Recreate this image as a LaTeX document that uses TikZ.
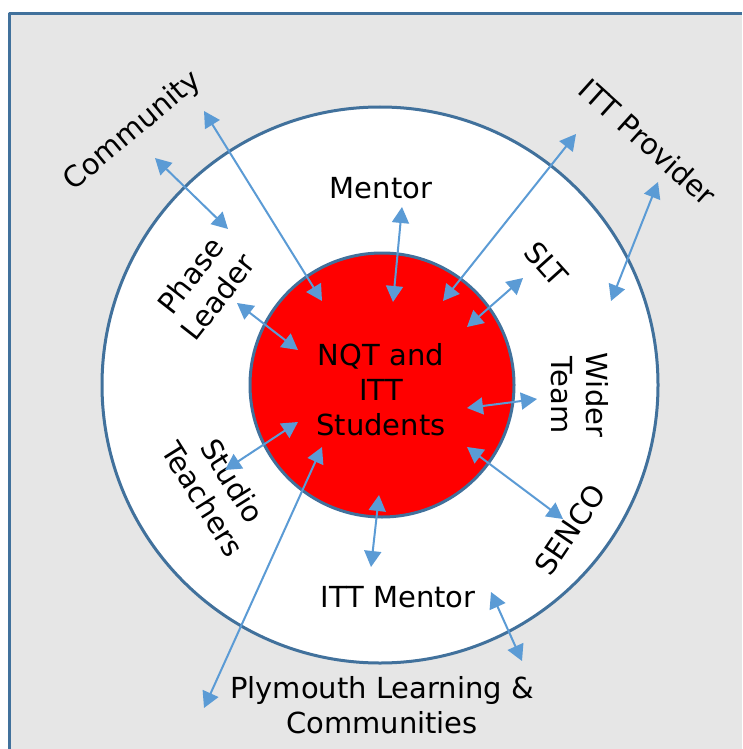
\documentclass[tikz,border=0pt]{standalone}
\usepackage{fontspec}
\setmainfont{DejaVu Sans}
\usetikzlibrary{arrows.meta}
\definecolor{ringblue}{HTML}{41719C}
\definecolor{linkblue}{HTML}{5B9BD5}
\definecolor{panelgrey}{HTML}{E6E6E6}
\begin{document}
\begin{tikzpicture}[x=1pt, y=-1pt, font=\fontsize{29}{35}\selectfont, line join=round,
  >={Triangle[length=16pt,width=17pt]},
  link/.style={linkblue, line width=2pt, <->},
  lbl/.style={align=center, inner sep=0pt}]
\useasboundingbox (0,0) rectangle (742,749);
\fill[panelgrey] (9,14) rectangle (742,749);
\draw[ringblue, line width=3pt] (9,749) -- (9,14) -- (742,14);
\draw[ringblue, line width=3pt, fill=white] (380,385) circle (278);
\node[circle, fill=red, draw=ringblue, line width=3pt, minimum size=264pt, inner sep=0pt] (core) at (382,385) {};
\node[lbl] (students) at (381,390) {NQT and\\ITT\\Students};
% labels round the ring
\node[lbl] (mentor) at (381,188) {Mentor};
\node[lbl, rotate=52] (phase) at (204,286) {Phase\\Leader};
\node[lbl, rotate=-48] (slt) at (546,264) {SLT};
\node[lbl, rotate=-90] (wider) at (580,395) {Wider\\Team};
\node[lbl, rotate=56] (senco) at (570,530) {SENCO};
\node[lbl] (ittmentor) at (398,597) {ITT Mentor};
\node[lbl, rotate=-58] (studio) at (218,490) {Studio\\Teachers};
\node[lbl, rotate=40] (community) at (133,131) {Community};
\node[lbl, rotate=-42] (provider) at (648,142) {ITT Provider};
\node[lbl] (plymouth) at (382,705) {Plymouth Learning \&\\Communities};
% arrow ends
\coordinate (Ca) at (204,111); \coordinate (Cb) at (322,301);
\coordinate (Cc) at (155,158); \coordinate (Cd) at (228,229);
\coordinate (Ma) at (402,207); \coordinate (Mb) at (393,302);
\coordinate (Pa) at (237,303); \coordinate (Pb) at (298,350);
\coordinate (Ia) at (576,134); \coordinate (Ib) at (443,301);
\coordinate (Ic) at (658,182); \coordinate (Id) at (611,301);
\coordinate (Sa) at (523,278); \coordinate (Sb) at (467,327);
\coordinate (Wa) at (537,399); \coordinate (Wb) at (467,408);
\coordinate (Ea) at (563,519); \coordinate (Eb) at (467,447);
\coordinate (Ta) at (379,495); \coordinate (Tb) at (371,567);
\coordinate (Tc) at (491,592); \coordinate (Td) at (522,661);
\coordinate (Da) at (298,422); \coordinate (Db) at (225,470);
\coordinate (La) at (322,447); \coordinate (Lb) at (204,708);
\foreach \s/\e in {Ca/Cb,Cc/Cd,Ma/Mb,Pa/Pb,Ia/Ib,Ic/Id,Sa/Sb,Wa/Wb,Ea/Eb,Ta/Tb,Tc/Td,Da/Db,La/Lb}
  \draw[link] (\s)--(\e);
\end{tikzpicture}
\end{document}
